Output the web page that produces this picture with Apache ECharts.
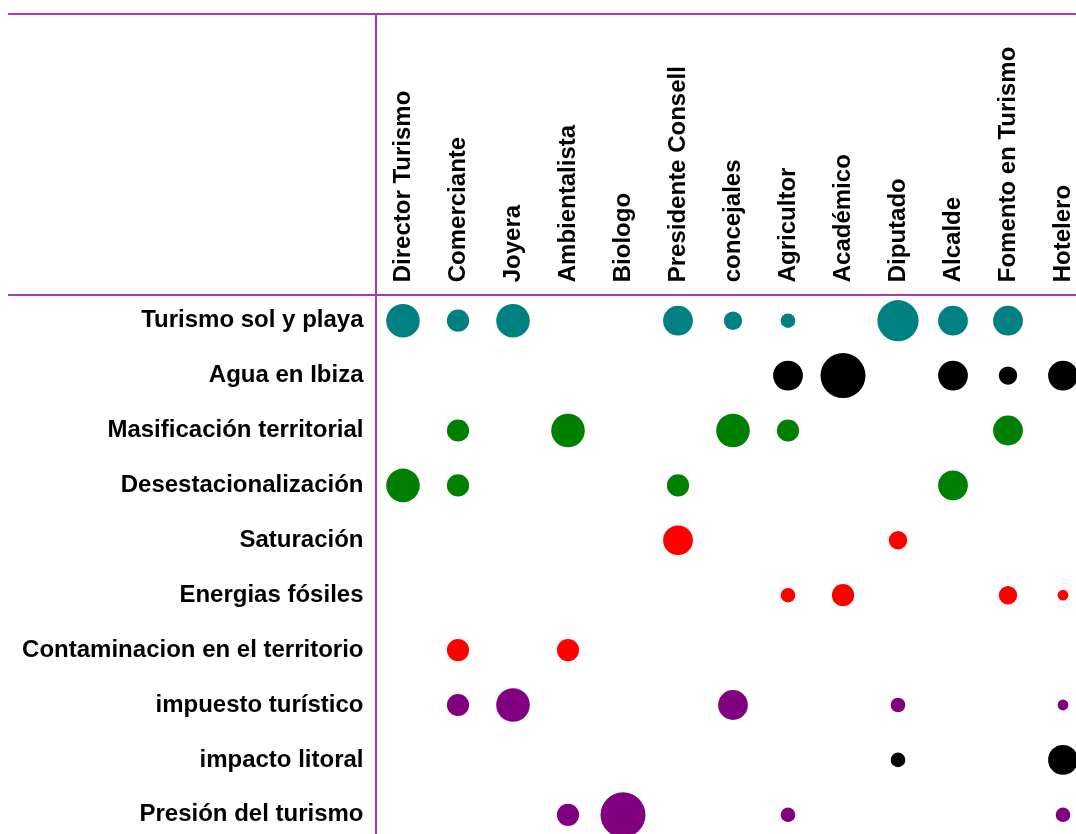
<!DOCTYPE html>
<html>
<head>
<meta charset="utf-8">
<title>Temas por actor</title>
<script src="https://cdn.jsdelivr.net/npm/echarts@6/dist/echarts.min.js"></script>
<style>
  html, body { margin: 0; padding: 0; background: #ffffff; }
  #chart { width: 1076px; height: 834px; }
</style>
</head>
<body>
<div id="chart"></div>
<script>
// Actors (columns)
const actors = ['Director Turismo', 'Comerciante', 'Joyera', 'Ambientalista', 'Biologo',
  'Presidente Consell', 'concejales', 'Agricultor', 'Académico', 'Diputado', 'Alcalde',
  'Fomento en Turismo', 'Hotelero'];

// Topics (rows)
const topics = ['Turismo sol y playa', 'Agua en Ibiza', 'Masificación territorial',
  'Desestacionalización', 'Saturación', 'Energias fósiles', 'Contaminacion en el territorio',
  'impuesto turístico', 'impacto litoral', 'Presión del turismo'];

// Mentions per actor, one array per topic (0 = not mentioned)
const turismoSolPlaya   = [7, 4, 7, 0, 0, 6, 3, 2, 0, 9, 6, 6, 0];
const aguaIbiza         = [0, 0, 0, 0, 0, 0, 0, 6, 10, 0, 6, 3, 6];
const masificacion      = [0, 4, 0, 7, 0, 0, 7, 4, 0, 0, 0, 6, 0];
const desestacional     = [7, 4, 0, 0, 0, 4, 0, 0, 0, 0, 6, 0, 0];
const saturacion        = [0, 0, 0, 0, 0, 6, 0, 0, 0, 3, 0, 0, 0];
const energiasFosiles   = [0, 0, 0, 0, 0, 0, 0, 2, 4, 0, 0, 3, 1];
const contaminacion     = [0, 4, 0, 4, 0, 0, 0, 0, 0, 0, 0, 0, 0];
const impuestoTuristico = [0, 4, 7, 0, 0, 0, 6, 0, 0, 2, 0, 0, 1];
const impactoLitoral    = [0, 0, 0, 0, 0, 0, 0, 0, 0, 2, 0, 0, 6];
const presionTurismo    = [0, 0, 0, 4, 10, 0, 0, 2, 0, 0, 0, 0, 2];

const topicValues = [turismoSolPlaya, aguaIbiza, masificacion, desestacional, saturacion,
  energiasFosiles, contaminacion, impuestoTuristico, impactoLitoral, presionTurismo];

// Bubble colour for each topic row
const topicColors = ['#008080', '#000000', '#008000', '#008000', '#ff0000',
  '#ff0000', '#ff0000', '#800080', '#000000', '#800080'];

const frameColor = '#a53cb4';
const labelFont = { fontFamily: '"Liberation Sans", Arial, sans-serif', fontWeight: 'bold', fontSize: 24, color: '#000000' };

const series = topicValues.map((vals, row) => ({
  type: 'scatter',
  name: topics[row],
  symbol: 'circle',
  symbolSize: d => 7 + 3.8 * d[2],
  itemStyle: { color: topicColors[row], opacity: 1 },
  emphasis: { disabled: true },
  data: vals.map((v, col) => [col, row, v]).filter(d => d[2] > 0)
}));

const chart = echarts.init(document.getElementById('chart'), null, { renderer: 'canvas' });
chart.setOption({
  animation: false,
  backgroundColor: '#ffffff',
  grid: {
    left: 375.5, right: -14.5, top: 293.25, bottom: -8.25,
    containLabel: false, outerBoundsMode: 'none'
  },
  xAxis: {
    type: 'category',
    position: 'top',
    data: actors,
    boundaryGap: true,
    axisLine: { show: false },
    axisTick: { show: false },
    splitLine: { show: false },
    axisLabel: Object.assign({ rotate: -90, margin: 11, interval: 0 }, labelFont)
  },
  yAxis: {
    type: 'category',
    data: topics,
    inverse: true,
    boundaryGap: true,
    axisLine: { show: false },
    axisTick: { show: false },
    splitLine: { show: false },
    axisLabel: Object.assign({ margin: 12, interval: 0 }, labelFont)
  },
  graphic: [
    { type: 'line', shape: { x1: 8, y1: 14, x2: 1076, y2: 14 }, style: { stroke: frameColor, lineWidth: 2 } },
    { type: 'line', shape: { x1: 8, y1: 295, x2: 1076, y2: 295 }, style: { stroke: frameColor, lineWidth: 2 } },
    { type: 'line', shape: { x1: 376, y1: 14, x2: 376, y2: 834 }, style: { stroke: frameColor, lineWidth: 2 } }
  ],
  series: series
});
</script>
</body>
</html>
